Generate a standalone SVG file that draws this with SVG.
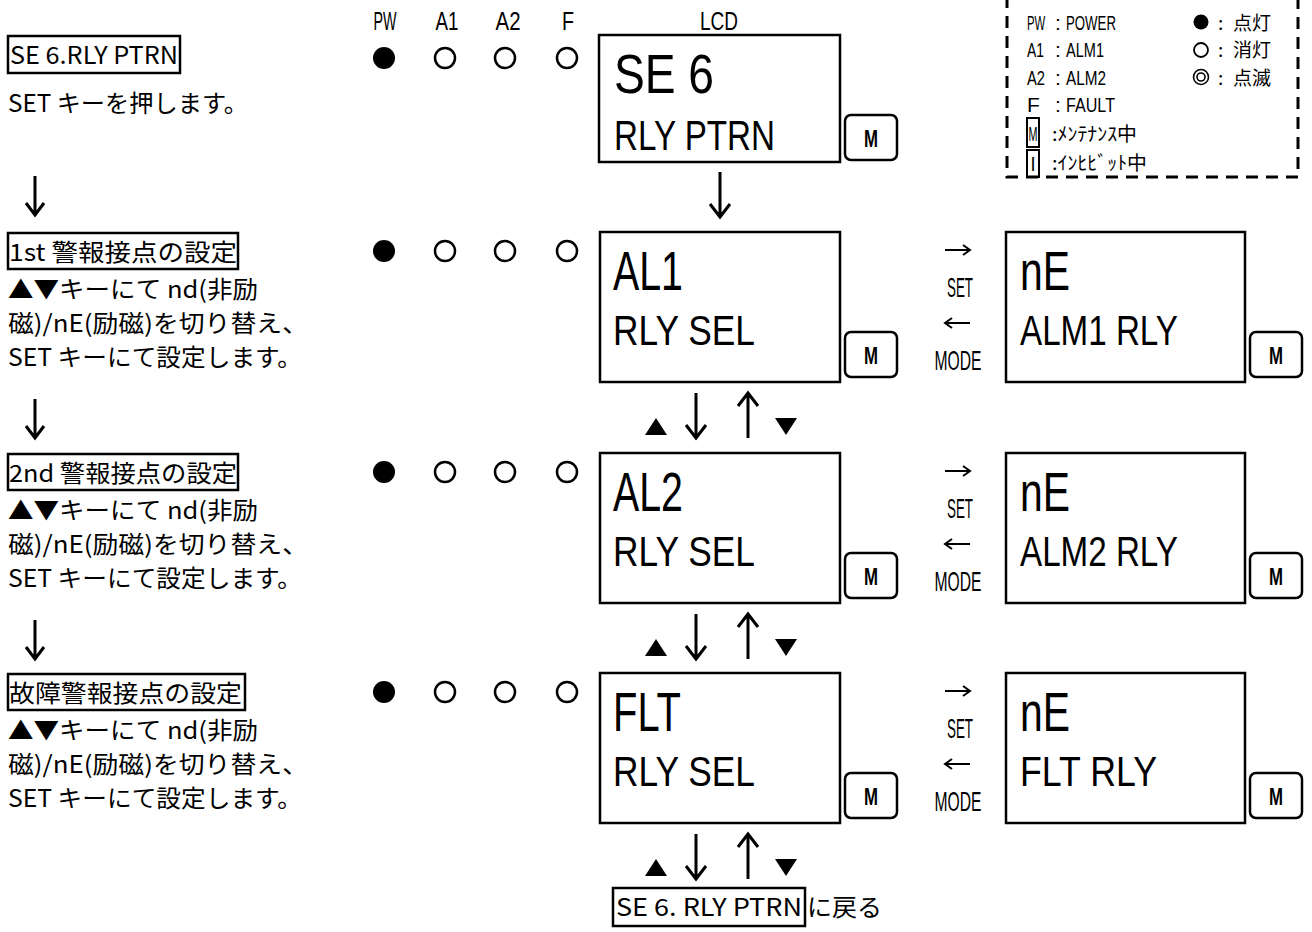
<svg xmlns="http://www.w3.org/2000/svg" width="1312" height="932" viewBox="0 0 1312 932">
<style>
.jp{font-family:"Noto Sans CJK JP","Liberation Sans",sans-serif;font-size:24px;fill:#000}
.lt{font-family:"Liberation Sans","Noto Sans CJK JP",sans-serif;fill:#000}
.lg{font-family:"Liberation Sans","Noto Sans CJK JP",sans-serif;font-size:21px;fill:#000}
.lgj{font-family:"Noto Sans CJK JP",sans-serif;font-size:19px;fill:#000}
.box{fill:none;stroke:#000;stroke-width:2.5}
.lcd{fill:#fff;stroke:#000;stroke-width:2.5}
.mb{fill:#fff;stroke:#000;stroke-width:2.5}
.mt{font-family:"Liberation Sans",sans-serif;font-weight:bold;font-size:24px;fill:#000}
.big{font-size:55px}
.sml{font-size:42px}
.arr{fill:none;stroke:#000;stroke-width:3}
.led{fill:none;stroke:#000;stroke-width:2.5}
</style>
<defs>
<g id="dn"><path class="arr" d="M0,0 V44 M-10,32 L0,45 L10,32"/></g>
<g id="up"><path class="arr" d="M0,45 V1 M-10,13 L0,0 L10,13"/></g>
<g id="ldn"><path class="arr" d="M0,0 V38 M-9,27 L0,39 L9,27"/></g>
<g id="updown">
<polygon points="-11,17 11,17 0,0"/>
<use href="#dn" x="40" y="-25"/>
<use href="#up" x="92" y="-25"/>
<polygon points="119,0 141,0 130,17"/>
</g>
<g id="mbox"><rect class="mb" x="0" y="0" width="52" height="45" rx="6"/><text class="mt" x="26" y="32" text-anchor="middle" textLength="14" lengthAdjust="spacingAndGlyphs">M</text></g>
<g id="leds">
<circle cx="384" cy="0" r="11"/>
<circle class="led" cx="445" cy="0" r="10"/>
<circle class="led" cx="505" cy="0" r="10"/>
<circle class="led" cx="567" cy="0" r="10"/>
</g>
<g id="setmode">
<path class="arr" style="stroke-width:2" d="M945,0 H970 M963,-5 L970,0 L963,5"/>
<text class="lt" x="960" y="47" font-size="28" text-anchor="middle" textLength="26" lengthAdjust="spacingAndGlyphs">SET</text>
<path class="arr" style="stroke-width:2" d="M945,73 H970 M952,68 L945,73 L952,78"/>
<text class="lt" x="958" y="120" font-size="28" text-anchor="middle" textLength="47" lengthAdjust="spacingAndGlyphs">MODE</text>
</g>
</defs>

<g id="legend">
<path fill="none" stroke="#000" stroke-width="3" stroke-dasharray="12 8" d="M1007,-4 V177 H1298 V-4"/>
<text class="lg" transform="translate(1027,30) scale(0.54,1)" x="0" y="0">PW</text>
<text class="lg" y="30"><tspan x="1055">:</tspan><tspan x="1066" textLength="50" lengthAdjust="spacingAndGlyphs">POWER</tspan></text>
<text class="lg" y="57"><tspan x="1027" textLength="17" lengthAdjust="spacingAndGlyphs">A1</tspan><tspan x="1055">:</tspan><tspan x="1066" textLength="38" lengthAdjust="spacingAndGlyphs">ALM1</tspan></text>
<text class="lg" y="85"><tspan x="1027" textLength="18" lengthAdjust="spacingAndGlyphs">A2</tspan><tspan x="1055">:</tspan><tspan x="1066" textLength="40" lengthAdjust="spacingAndGlyphs">ALM2</tspan></text>
<text class="lg" y="112"><tspan x="1027">F</tspan><tspan x="1055">:</tspan><tspan x="1066" textLength="49" lengthAdjust="spacingAndGlyphs">FAULT</tspan></text>
<rect x="1027" y="118" width="12" height="29" fill="none" stroke="#000" stroke-width="2"/>
<text class="lg" x="1033" y="141" text-anchor="middle" textLength="9" lengthAdjust="spacingAndGlyphs">M</text>
<text class="lgj" x="1052" y="141" textLength="85" lengthAdjust="spacingAndGlyphs">:ﾒﾝﾃﾅﾝｽ中</text>
<rect x="1027" y="150" width="12" height="27" fill="none" stroke="#000" stroke-width="2"/>
<text class="lg" x="1033" y="171" text-anchor="middle" textLength="5" lengthAdjust="spacingAndGlyphs">I</text>
<text class="lgj" x="1052" y="170" textLength="95" lengthAdjust="spacingAndGlyphs">:ｲﾝﾋﾋﾞｯﾄ中</text>
<circle cx="1201" cy="22" r="7.5"/>
<text class="lgj" y="30"><tspan x="1218">:</tspan><tspan x="1233">点灯</tspan></text>
<circle cx="1201" cy="50" r="7" fill="none" stroke="#000" stroke-width="1.8"/>
<text class="lgj" y="57"><tspan x="1218">:</tspan><tspan x="1233">消灯</tspan></text>
<circle cx="1201" cy="77" r="7.5" fill="none" stroke="#000" stroke-width="1.6"/>
<circle cx="1201" cy="77" r="4" fill="none" stroke="#000" stroke-width="1.6"/>
<text class="lgj" y="85"><tspan x="1218">:</tspan><tspan x="1233">点滅</tspan></text>
</g>

<g id="header">
<text class="lt" x="385" y="30" font-size="25" text-anchor="middle" textLength="23" lengthAdjust="spacingAndGlyphs">PW</text>
<text class="lt" x="447" y="30" font-size="25" text-anchor="middle" textLength="23" lengthAdjust="spacingAndGlyphs">A1</text>
<text class="lt" x="508" y="30" font-size="25" text-anchor="middle" textLength="25" lengthAdjust="spacingAndGlyphs">A2</text>
<text class="lt" x="568" y="30" font-size="25" text-anchor="middle" textLength="12" lengthAdjust="spacingAndGlyphs">F</text>
<text class="lt" x="719" y="30" font-size="25" text-anchor="middle" textLength="38" lengthAdjust="spacingAndGlyphs">LCD</text>
</g>

<g id="step0">
<rect class="box" x="8" y="36" width="172" height="37"/>
<text class="jp" x="10" y="64" textLength="168" lengthAdjust="spacingAndGlyphs">SE 6.RLY PTRN</text>
<text class="jp" x="8" y="112" textLength="240" lengthAdjust="spacingAndGlyphs">SET キーを押します。</text>
<use href="#leds" y="58"/>
<rect class="lcd" x="599" y="35" width="241" height="127"/>
<text class="lt big" x="614" y="93" textLength="100" lengthAdjust="spacingAndGlyphs">SE 6</text>
<text class="lt sml" x="614" y="150" textLength="161" lengthAdjust="spacingAndGlyphs">RLY PTRN</text>
<use href="#mbox" x="845" y="115"/>
</g>

<g id="step1">
<rect class="box" x="8" y="233" width="230" height="36"/>
<text class="jp" x="9" y="261" textLength="228" lengthAdjust="spacingAndGlyphs">1st 警報接点の設定</text>
<text class="jp" x="8" y="298" textLength="250" lengthAdjust="spacingAndGlyphs">▲▼キーにて nd(非励</text>
<text class="jp" x="8" y="332" textLength="300" lengthAdjust="spacingAndGlyphs">磁)/nE(励磁)を切り替え、</text>
<text class="jp" x="8" y="366" textLength="294" lengthAdjust="spacingAndGlyphs">SET キーにて設定します。</text>
<use href="#leds" y="251"/>
<rect class="lcd" x="600" y="232" width="240" height="150"/>
<text class="lt big" x="613" y="290" textLength="70" lengthAdjust="spacingAndGlyphs">AL1</text>
<text class="lt sml" x="613" y="345" textLength="142" lengthAdjust="spacingAndGlyphs">RLY SEL</text>
<use href="#mbox" x="845" y="332"/>
<use href="#setmode" y="250"/>
<rect class="lcd" x="1006" y="232" width="239" height="150"/>
<text class="lt big" x="1020" y="290" textLength="50" lengthAdjust="spacingAndGlyphs">nE</text>
<text class="lt sml" x="1020" y="345" textLength="158" lengthAdjust="spacingAndGlyphs">ALM1 RLY</text>
<use href="#mbox" x="1250" y="332"/>
</g>

<g id="step2">
<rect class="box" x="8" y="454" width="230" height="36"/>
<text class="jp" x="9" y="482" textLength="228" lengthAdjust="spacingAndGlyphs">2nd 警報接点の設定</text>
<text class="jp" x="8" y="519" textLength="250" lengthAdjust="spacingAndGlyphs">▲▼キーにて nd(非励</text>
<text class="jp" x="8" y="553" textLength="300" lengthAdjust="spacingAndGlyphs">磁)/nE(励磁)を切り替え、</text>
<text class="jp" x="8" y="587" textLength="294" lengthAdjust="spacingAndGlyphs">SET キーにて設定します。</text>
<use href="#leds" y="472"/>
<rect class="lcd" x="600" y="453" width="240" height="150"/>
<text class="lt big" x="613" y="511" textLength="70" lengthAdjust="spacingAndGlyphs">AL2</text>
<text class="lt sml" x="613" y="566" textLength="142" lengthAdjust="spacingAndGlyphs">RLY SEL</text>
<use href="#mbox" x="845" y="553"/>
<use href="#setmode" y="471"/>
<rect class="lcd" x="1006" y="453" width="239" height="150"/>
<text class="lt big" x="1020" y="511" textLength="50" lengthAdjust="spacingAndGlyphs">nE</text>
<text class="lt sml" x="1020" y="566" textLength="158" lengthAdjust="spacingAndGlyphs">ALM2 RLY</text>
<use href="#mbox" x="1250" y="553"/>
</g>

<g id="step3">
<rect class="box" x="8" y="674" width="237" height="36"/>
<text class="jp" x="9" y="702" textLength="233" lengthAdjust="spacingAndGlyphs">故障警報接点の設定</text>
<text class="jp" x="8" y="739" textLength="250" lengthAdjust="spacingAndGlyphs">▲▼キーにて nd(非励</text>
<text class="jp" x="8" y="773" textLength="300" lengthAdjust="spacingAndGlyphs">磁)/nE(励磁)を切り替え、</text>
<text class="jp" x="8" y="807" textLength="294" lengthAdjust="spacingAndGlyphs">SET キーにて設定します。</text>
<use href="#leds" y="692"/>
<rect class="lcd" x="600" y="673" width="240" height="150"/>
<text class="lt big" x="613" y="731" textLength="68" lengthAdjust="spacingAndGlyphs">FLT</text>
<text class="lt sml" x="613" y="786" textLength="142" lengthAdjust="spacingAndGlyphs">RLY SEL</text>
<use href="#mbox" x="845" y="773"/>
<use href="#setmode" y="691"/>
<rect class="lcd" x="1006" y="673" width="239" height="150"/>
<text class="lt big" x="1020" y="731" textLength="50" lengthAdjust="spacingAndGlyphs">nE</text>
<text class="lt sml" x="1020" y="786" textLength="137" lengthAdjust="spacingAndGlyphs">FLT RLY</text>
<use href="#mbox" x="1250" y="773"/>
</g>

<g id="return">
<rect class="box" x="613" y="888" width="192" height="38"/>
<text class="jp" y="916"><tspan x="616" textLength="186" lengthAdjust="spacingAndGlyphs">SE 6. RLY PTRN</tspan><tspan x="807" textLength="75" lengthAdjust="spacingAndGlyphs">に戻る</tspan></text>
</g>

<g id="connectors">
<use href="#ldn" x="35" y="176"/>
<use href="#ldn" x="35" y="399"/>
<use href="#ldn" x="35" y="620"/>
<use href="#dn" x="720" y="172"/>
<use href="#updown" x="656" y="418"/>
<use href="#updown" x="656" y="639"/>
<use href="#updown" x="656" y="859"/>
</g>
</svg>
